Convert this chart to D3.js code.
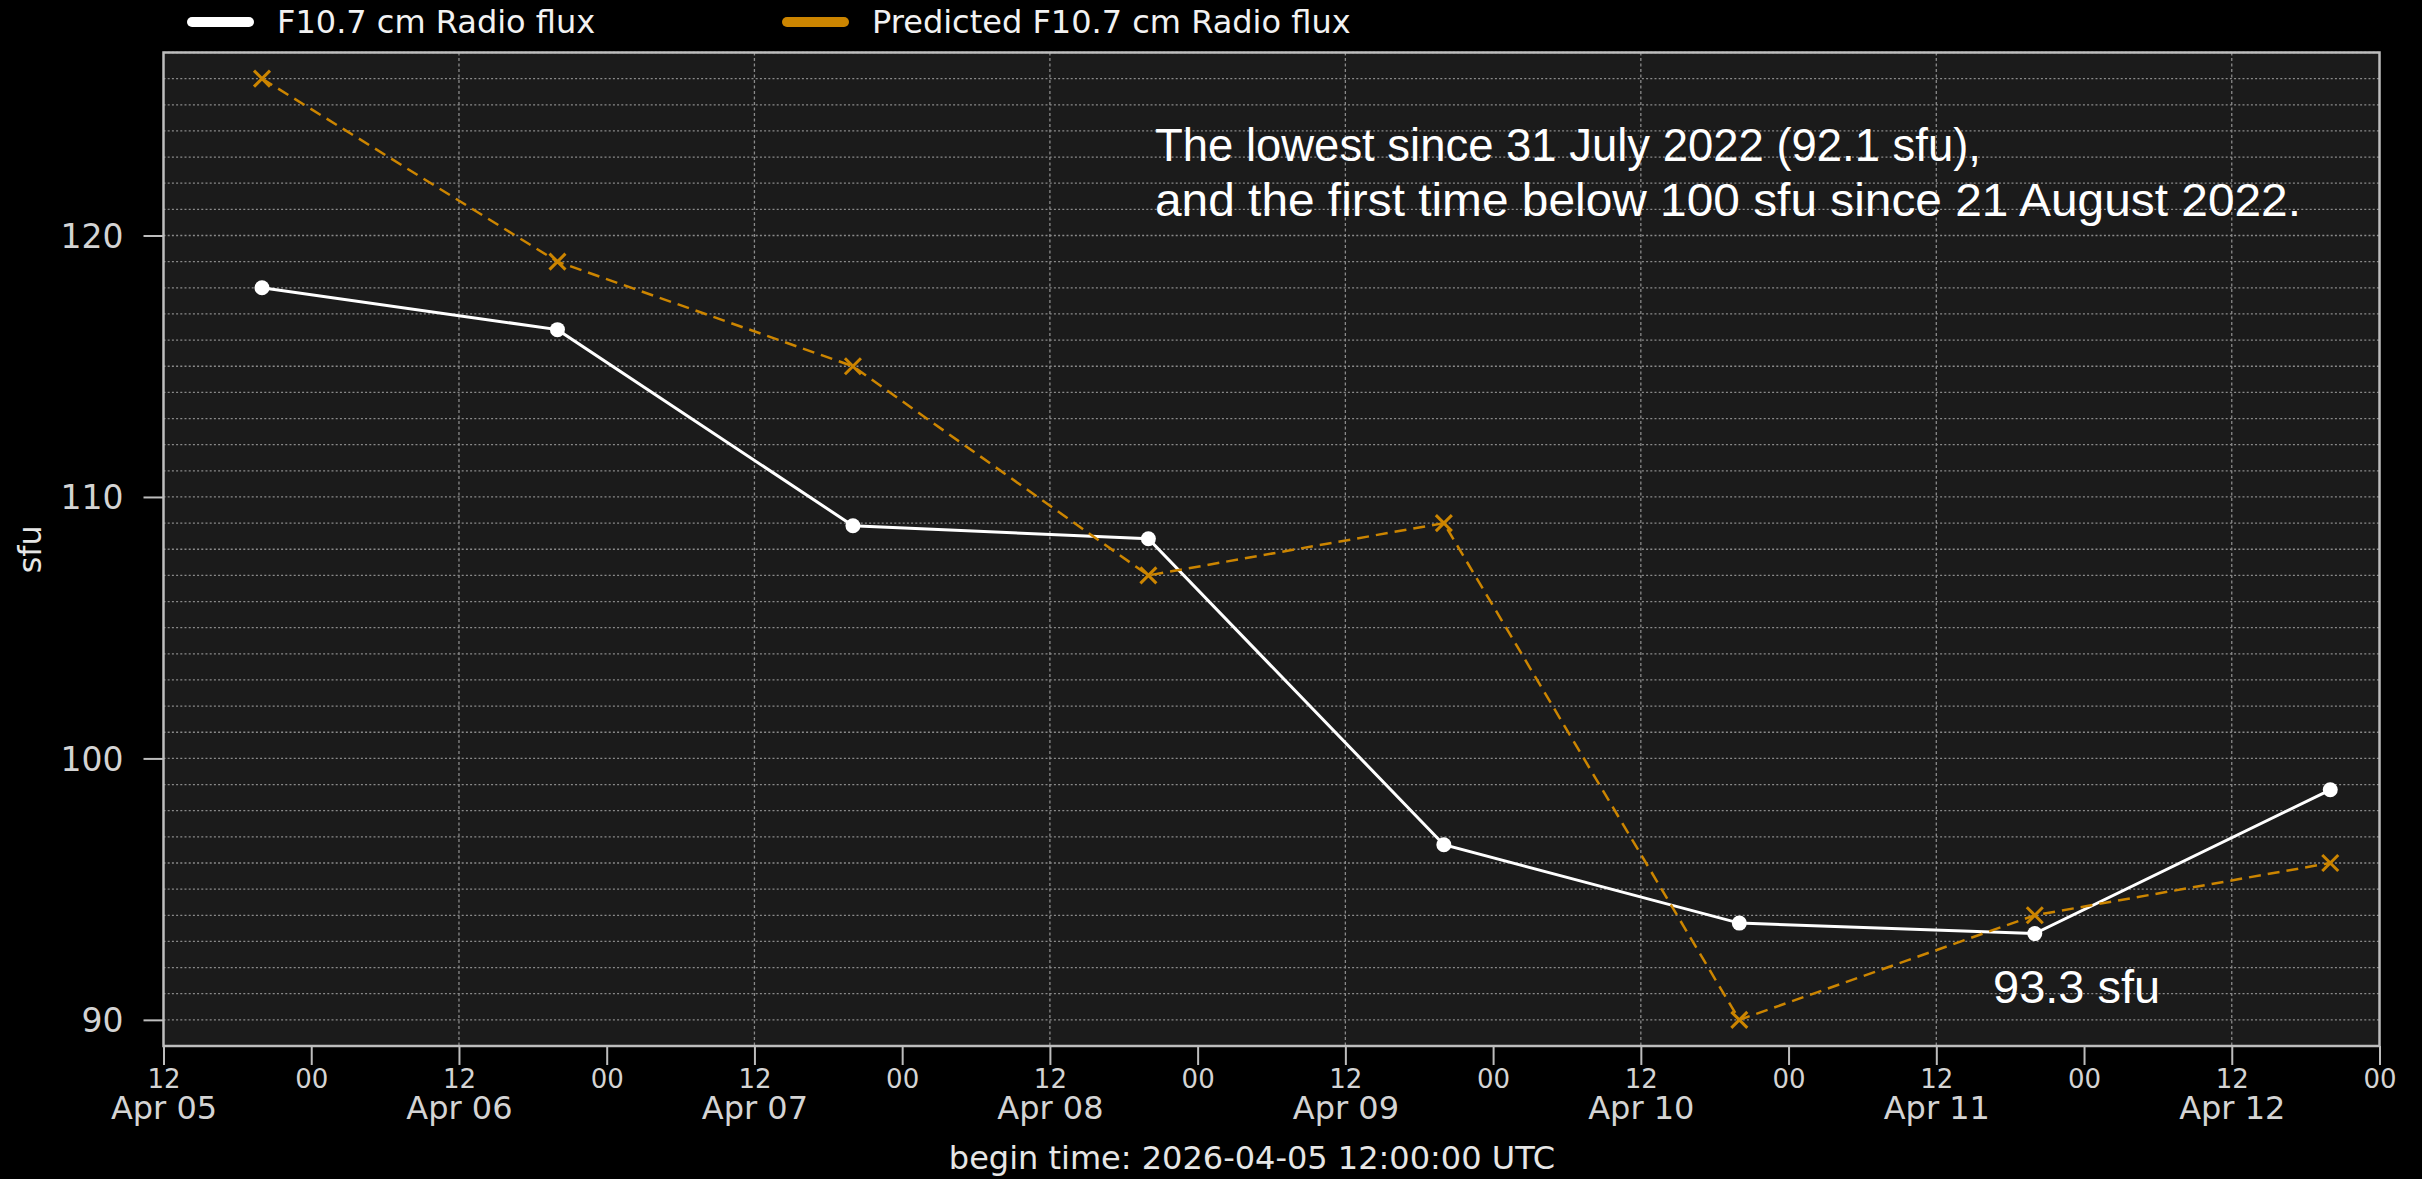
<!DOCTYPE html>
<html>
<head>
<meta charset="utf-8">
<script src="https://cdn.jsdelivr.net/npm/d3@7"></script>
<style>
  html, body { margin: 0; padding: 0; background: #000; }
  svg { display: block; }
</style>
</head>
<body>
<svg id="chart" width="2422" height="1179"></svg>
<script>
// ---- data ----
const dates = ["2026-04-05T20:00:00Z","2026-04-06T20:00:00Z","2026-04-07T20:00:00Z","2026-04-08T20:00:00Z",
               "2026-04-09T20:00:00Z","2026-04-10T20:00:00Z","2026-04-11T20:00:00Z","2026-04-12T20:00:00Z"];
const observed  = [118.0, 116.4, 108.9, 108.4, 96.7, 93.7, 93.3, 98.8];
const predicted = [126, 119, 115, 107, 109, 90, 94, 96];
const yTicks = [90, 100, 110, 120];
const seriesNames = ["F10.7 cm Radio flux", "Predicted F10.7 cm Radio flux"];
const xDomain = ["2026-04-05T12:00:00Z", "2026-04-13T00:00:00Z"];
const yDomain = [89, 127];
const xLabel = "begin time: 2026-04-05 12:00:00 UTC";
const yLabel = "sfu";
const note1 = "The lowest since 31 July 2022 (92.1 sfu),";
const note2 = "and the first time below 100 sfu since 21 August 2022.";
const note3 = "93.3 sfu";

// ---- layout ----
const L = 163.5, R = 2379.5, T = 52.5, B = 1046;
const obsColor = "#ffffff", predColor = "#cc8500";
const svg = d3.select("#chart");
svg.append("rect").attr("width", 2422).attr("height", 1179).attr("fill", "#000");

const x = d3.scaleUtc().domain(xDomain.map(d => new Date(d))).range([L, R]);
const y = d3.scaleLinear().domain(yDomain).range([B, T]);

svg.append("rect").attr("x", L).attr("y", T).attr("width", R - L).attr("height", B - T).attr("fill", "#1b1b1b");

// grid: horizontal every 1 sfu
const gy = d3.range(yDomain[0], yDomain[1] + 0.001, 1);
svg.append("g").selectAll("line").data(gy).join("line")
  .attr("x1", L).attr("x2", R).attr("y1", d => y(d)).attr("y2", d => y(d))
  .attr("stroke", "#8a8a8a").attr("stroke-width", 1.3).attr("stroke-dasharray", "2,2.2");

// ticks: majors at 12:00 (with date), minors at 00:00
const t0 = new Date(xDomain[0]), t1 = new Date(xDomain[1]);
const majorTicks = d3.utcDay.range(d3.utcDay.floor(t0), t1).map(d => d3.utcHour.offset(d, 12)).filter(d => d >= t0 && d <= t1);
const minorTicks = d3.utcDay.range(d3.utcDay.ceil(t0), d3.utcHour.offset(t1, 1));

// vertical grid at 12:00 ticks
svg.append("g").selectAll("line").data(majorTicks.filter(d => x(d) > L + 1)).join("line")
  .attr("x1", d => x(d)).attr("x2", d => x(d)).attr("y1", T).attr("y2", B)
  .attr("stroke", "#8a8a8a").attr("stroke-width", 1.3).attr("stroke-dasharray", "3,2.5");

// frame
svg.append("rect").attr("x", L).attr("y", T).attr("width", R - L).attr("height", B - T)
  .attr("fill", "none").attr("stroke", "#bdbdbd").attr("stroke-width", 2.5);

// y axis
const yAxis = d3.axisLeft(y).tickValues(yTicks).tickSize(20).tickPadding(20).tickFormat(d3.format("d"));
const gY = svg.append("g").attr("transform", `translate(${L},0)`).call(yAxis);
gY.select(".domain").remove();
gY.selectAll(".tick line").attr("stroke", "#bdbdbd").attr("stroke-width", 2);
gY.selectAll(".tick text").attr("fill", "#d4d4d4").attr("font-family", "DejaVu Sans").attr("font-size", 33).attr("dy", "0.36em");

// x axis major (12:00 + date line) + minor (00)
const xMaj = d3.axisBottom(x).tickValues(majorTicks).tickSize(19).tickFormat("");
const gX = svg.append("g").attr("transform", `translate(0,${B})`).call(xMaj);
gX.select(".domain").remove();
gX.selectAll(".tick line").attr("stroke", "#bdbdbd").attr("stroke-width", 2);
gX.selectAll(".tick text").remove();
const mt = gX.selectAll(".tick").append("text")
  .attr("fill", "#d4d4d4").attr("font-family", "DejaVu Sans").attr("text-anchor", "middle").attr("y", 42);
mt.append("tspan").attr("x", 0).attr("font-size", 26).text(d => d3.utcFormat("%H")(d));
mt.append("tspan").attr("x", 0).attr("dy", 31).attr("font-size", 32).text(d => d3.utcFormat("%b %d")(d));

const xMin = d3.axisBottom(x).tickValues(minorTicks).tickSize(19).tickFormat(d3.utcFormat("%H"));
const gXm = svg.append("g").attr("transform", `translate(0,${B})`).call(xMin);
gXm.select(".domain").remove();
gXm.selectAll(".tick line").attr("stroke", "#bdbdbd").attr("stroke-width", 2);
gXm.selectAll(".tick text").attr("fill", "#d4d4d4").attr("font-family", "DejaVu Sans").attr("font-size", 26)
  .attr("y", 42).attr("dy", 0);

// axis labels
svg.append("text").text(xLabel).attr("x", 1252).attr("y", 1169)
  .attr("text-anchor", "middle").attr("fill", "#e6e6e6").attr("font-family", "DejaVu Sans").attr("font-size", 32);
svg.append("text").text(yLabel).attr("transform", `translate(41,${(T + B) / 2}) rotate(-90)`)
  .attr("text-anchor", "middle").attr("fill", "#e6e6e6").attr("font-family", "DejaVu Sans").attr("font-size", 32);

// series
const obsData = dates.map((d, i) => ({ t: new Date(d), v: observed[i] }));
const predData = dates.map((d, i) => ({ t: new Date(d), v: predicted[i] }));
const line = d3.line().x(d => x(d.t)).y(d => y(d.v));

svg.append("path").datum(obsData).attr("d", line).attr("fill", "none")
  .attr("stroke", obsColor).attr("stroke-width", 3);
svg.append("g").selectAll("circle").data(obsData).join("circle")
  .attr("cx", d => x(d.t)).attr("cy", d => y(d.v)).attr("r", 7.5).attr("fill", obsColor);

svg.append("path").datum(predData).attr("d", line).attr("fill", "none")
  .attr("stroke", predColor).attr("stroke-width", 2.5).attr("stroke-dasharray", "12,7");
const s = 8;
svg.append("g").selectAll("path").data(predData).join("path")
  .attr("d", d => { const cx = x(d.t), cy = y(d.v);
    return `M${cx - s},${cy - s}L${cx + s},${cy + s}M${cx - s},${cy + s}L${cx + s},${cy - s}`; })
  .attr("stroke", predColor).attr("stroke-width", 3).attr("fill", "none");

// annotations
svg.append("text").text(note1).attr("x", 1155).attr("y", 161)
  .attr("textLength", 826).attr("lengthAdjust", "spacingAndGlyphs")
  .attr("fill", "#fff").attr("font-family", "Liberation Sans").attr("font-size", 47);
svg.append("text").text(note2).attr("x", 1155).attr("y", 216)
  .attr("textLength", 1146).attr("lengthAdjust", "spacingAndGlyphs")
  .attr("fill", "#fff").attr("font-family", "Liberation Sans").attr("font-size", 47);
svg.append("text").text(note3).attr("x", 1993).attr("y", 1003)
  .attr("fill", "#fff").attr("font-family", "Liberation Sans").attr("font-size", 47);

// legend
const leg = [{ name: seriesNames[0], color: obsColor, x0: 187 }, { name: seriesNames[1], color: predColor, x0: 782 }];
const lg = svg.append("g").selectAll("g").data(leg).join("g");
lg.append("line").attr("x1", d => d.x0 + 5).attr("x2", d => d.x0 + 62).attr("y1", 22).attr("y2", 22)
  .attr("stroke", d => d.color).attr("stroke-width", 10).attr("stroke-linecap", "round");
lg.append("text").text(d => d.name).attr("x", d => d.x0 + 90).attr("y", 33)
  .attr("fill", "#f2f2f2").attr("font-family", "DejaVu Sans").attr("font-size", 32);
</script>
</body>
</html>
